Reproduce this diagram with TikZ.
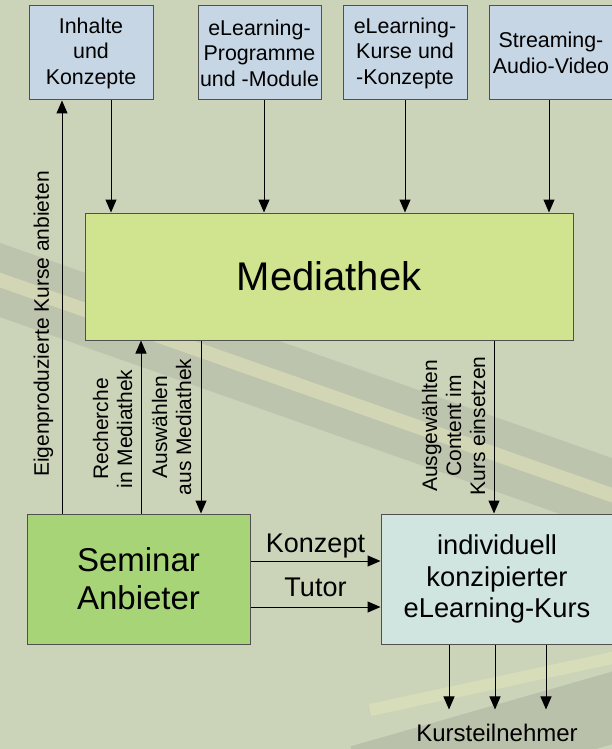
\documentclass[tikz,border=0pt]{standalone}
\usepackage{fontspec}
\setmainfont{Liberation Sans}
\usetikzlibrary{arrows.meta}
\definecolor{blatt}{RGB}{203,211,185}
\definecolor{ader}{RGB}{228,230,186}
\definecolor{schatten}{RGB}{150,154,140}
\definecolor{quelle}{RGB}{198,214,228}
\definecolor{mediathek}{RGB}{208,228,144}
\definecolor{seminar}{RGB}{168,212,120}
\definecolor{kurs}{RGB}{208,228,224}
\definecolor{rand}{RGB}{80,80,80}
\begin{document}
\begin{tikzpicture}[x=1pt,y=-1pt,
  kasten/.style={draw=rand,line width=1pt,inner sep=0pt,align=center,text=black},
  pfeil/.style={line width=1pt,draw=black,-{Triangle[length=13pt,width=11pt]}},
  beschr/.style={inner sep=0pt,align=center,rotate=90,font=\fontsize{21}{24}\selectfont},
  marke/.style={inner sep=0pt,font=\fontsize{27}{31}\selectfont}]
\clip (0,0) rectangle (612,749);
\fill[blatt] (0,0) rectangle (612,749);
\draw[schatten,opacity=0.25,line width=70pt] (-20,273) -- (640,505);
\draw[ader,opacity=0.55,line width=14pt] (-20,273) -- (640,505);
\draw[schatten,opacity=0.3,line width=70pt] (360,780) -- (640,700);
\draw[ader,opacity=0.55,line width=12pt] (370,710) -- (640,652);

\node[kasten,fill=quelle,minimum width=124pt,minimum height=94pt,font=\fontsize{21.4}{25.5}\selectfont] (inh) at (91,53) {Inhalte\\und\\Konzepte};
\node[kasten,fill=quelle,minimum width=123pt,minimum height=94pt,font=\fontsize{21.4}{25.5}\selectfont] (prog) at (259.5,53) {eLearning-\\Programme\\und -Module};
\node[kasten,fill=quelle,minimum width=124pt,minimum height=94pt,font=\fontsize{21.4}{25.5}\selectfont] (kons) at (405,53) {eLearning-\\Kurse und\\-Konzepte};
\node[kasten,fill=quelle,minimum width=124pt,minimum height=94pt,font=\fontsize{21.4}{25.5}\selectfont] (strm) at (551,53) {Streaming-\\Audio-Video};
\node[kasten,fill=mediathek,minimum width=488pt,minimum height=127pt,font=\fontsize{40}{46}\selectfont] (med) at (329,276.5) {Mediathek};
\node[kasten,fill=seminar,minimum width=223pt,minimum height=130pt,font=\fontsize{33}{38}\selectfont] (sem) at (138.5,579) {Seminar\\Anbieter};
\node[kasten,fill=kurs,minimum width=232pt,minimum height=130pt,font=\fontsize{27.3}{31.5}\selectfont] (ziel) at (497,579) {individuell\\konzipierter\\eLearning-Kurs};
\node[inner xsep=0pt,inner ysep=14.5pt,font=\fontsize{24}{28}\selectfont] (teil) at (497,733) {Kursteilnehmer};

\draw[pfeil] ([xshift=20pt]inh.south) -- ([xshift=20pt]inh.south |- med.north);
\draw[pfeil] ([xshift=4.5pt]prog.south) -- ([xshift=4.5pt]prog.south |- med.north);
\draw[pfeil] (kons.south) -- (kons.south |- med.north);
\draw[pfeil] ([xshift=-2pt]strm.south) -- ([xshift=-2pt]strm.south |- med.north);

\draw[pfeil] ([xshift=-76.5pt]sem.north) -- ([xshift=-76.5pt]sem.north |- inh.south);
\draw[pfeil] ([xshift=2.5pt]sem.north) -- ([xshift=2.5pt]sem.north |- med.south);
\draw[pfeil] ([xshift=62.5pt]sem.north |- med.south) -- ([xshift=62.5pt]sem.north);
\draw[pfeil] ([xshift=-3pt]ziel.north |- med.south) -- ([xshift=-3pt]ziel.north);

\node[beschr] (eig) at (43.5,324) {Eigenproduzierte Kurse anbieten};
\node[beschr] (rech) at (112.5,429) {Recherche\\in Mediathek};
\node[beschr] (ausw) at (171.5,427) {Auswählen\\aus Mediathek};
\node[beschr] (cont) at (453.5,426) {Ausgewählten\\Content im\\Kurs einsetzen};

\draw[pfeil] ([yshift=18pt]sem.east) -- ([yshift=18pt]sem.east -| ziel.west) node[marke,midway,above=2pt] (konz) {Konzept};
\draw[pfeil] ([yshift=-28pt]sem.east) -- ([yshift=-28pt]sem.east -| ziel.west) node[marke,midway,above=10pt] (tut) {Tutor};

\foreach \d in {-48,-2,49}
  \draw[pfeil] ([xshift=\d pt]ziel.south) -- ([xshift=\d pt]ziel.south |- teil.north);
\end{tikzpicture}
\end{document}
